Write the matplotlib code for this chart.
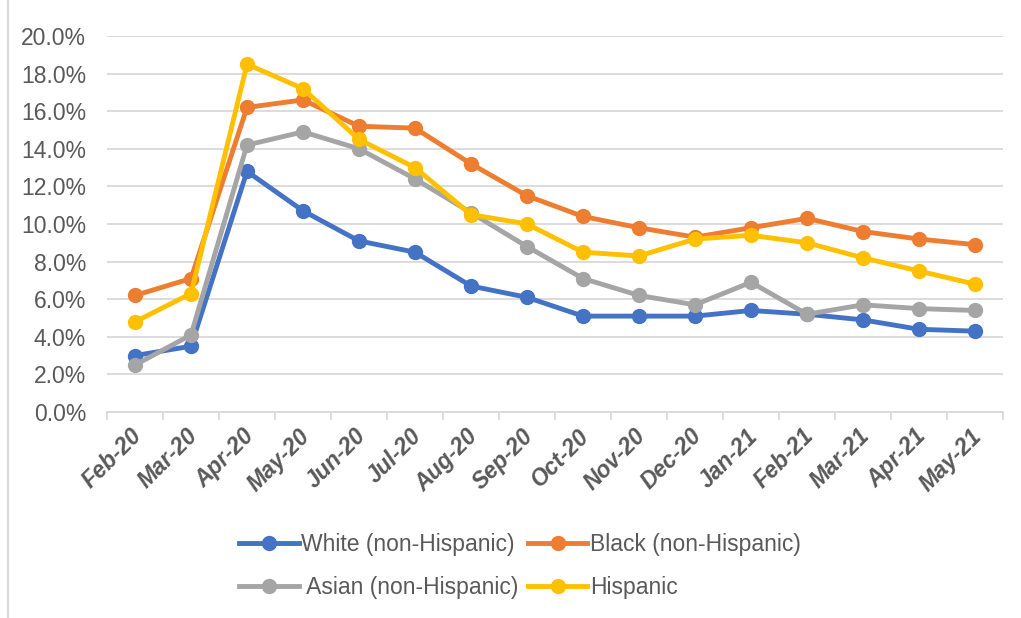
import matplotlib
matplotlib.use("Agg")
import matplotlib.pyplot as plt
from matplotlib.lines import Line2D
from matplotlib.ticker import PercentFormatter
from matplotlib.transforms import ScaledTranslation

plt.rcParams['font.family'] = ['Liberation Sans', 'DejaVu Sans']

months = ["Feb-20", "Mar-20", "Apr-20", "May-20", "Jun-20", "Jul-20", "Aug-20", "Sep-20",
          "Oct-20", "Nov-20", "Dec-20", "Jan-21", "Feb-21", "Mar-21", "Apr-21", "May-21"]
white = [3.0, 3.5, 12.8, 10.7, 9.1, 8.5, 6.7, 6.1, 5.1, 5.1, 5.1, 5.4, 5.2, 4.9, 4.4, 4.3]
black = [6.2, 7.1, 16.2, 16.6, 15.2, 15.1, 13.2, 11.5, 10.4, 9.8, 9.3, 9.8, 10.3, 9.6, 9.2, 8.9]
asian = [2.5, 4.1, 14.2, 14.9, 14.0, 12.4, 10.6, 8.8, 7.1, 6.2, 5.7, 6.9, 5.2, 5.7, 5.5, 5.4]
hispanic = [4.8, 6.3, 18.5, 17.2, 14.5, 13.0, 10.5, 10.0, 8.5, 8.3, 9.2, 9.4, 9.0, 8.2, 7.5, 6.8]

series = [
    ("White (non-Hispanic)", white, "#4472C4"),
    ("Black (non-Hispanic)", black, "#ED7D31"),
    (" Asian (non-Hispanic)", asian, "#A5A5A5"),
    ("Hispanic", hispanic, "#FFC000"),
]

fig = plt.figure(figsize=(10.21, 6.18), dpi=100)
ax = fig.add_axes([107/1021, 1 - 412/618, (1003 - 107)/1021, (412 - 36)/618])

x = list(range(len(months)))
handles = []
for name, vals, col in series:
    h, = ax.plot(x, vals, color=col, lw=3.5, marker='o', ms=10, label=name,
                 solid_joinstyle='round', zorder=3)
    handles.append(h)

ax.set_xlim(-0.5, len(months) - 0.5)
ax.set_ylim(0, 20)
ax.set_yticks([i * 2 for i in range(11)])
ax.yaxis.set_major_formatter(PercentFormatter(decimals=1))
ax.grid(axis='y', color='#D9D9D9', lw=1.3, zorder=0)
for s in ['top', 'right', 'left']:
    ax.spines[s].set_visible(False)
ax.spines['bottom'].set_color('#D9D9D9')
ax.spines['bottom'].set_linewidth(1.3)

ax.set_xticks([i - 0.5 for i in range(len(months) + 1)], minor=False)
ax.set_xticklabels([])
ax.tick_params(axis='x', which='major', length=6, color='#D9D9D9', width=1.3)
ax.set_xticks(x, minor=True)
ax.set_xticklabels(months, minor=True, rotation=45, ha='right', va='top',
                   rotation_mode='anchor', fontsize=16.5, fontweight='bold',
                   fontstyle='italic', color='#595959')
ax.tick_params(axis='x', which='minor', length=0, pad=9)
shift = ScaledTranslation(-5/100, 0, fig.dpi_scale_trans)
for lbl in ax.get_xticklabels(minor=True):
    lbl.set_transform(lbl.get_transform() + shift)
ax.tick_params(axis='y', length=0, labelsize=16.5, labelcolor='#595959', pad=15)

# column-wise fill: White, Asian in column 1; Black, Hispanic in column 2
leg_handles = [handles[0], handles[2], handles[1], handles[3]]
leg = fig.legend(handles=leg_handles, loc='center', bbox_to_anchor=(520/1021, 1 - 566/618),
                 ncol=2, frameon=False, fontsize=16.5, handlelength=2.6,
                 handletextpad=0.1, columnspacing=0.4, labelspacing=0.85)
for t in leg.get_texts():
    t.set_color('#595959')

fig.add_artist(Line2D([7.5/1021, 7.5/1021], [0, 1], color='#D9D9D9', lw=1.5,
                      transform=fig.transFigure))

fig.savefig("out.png", dpi=100)
